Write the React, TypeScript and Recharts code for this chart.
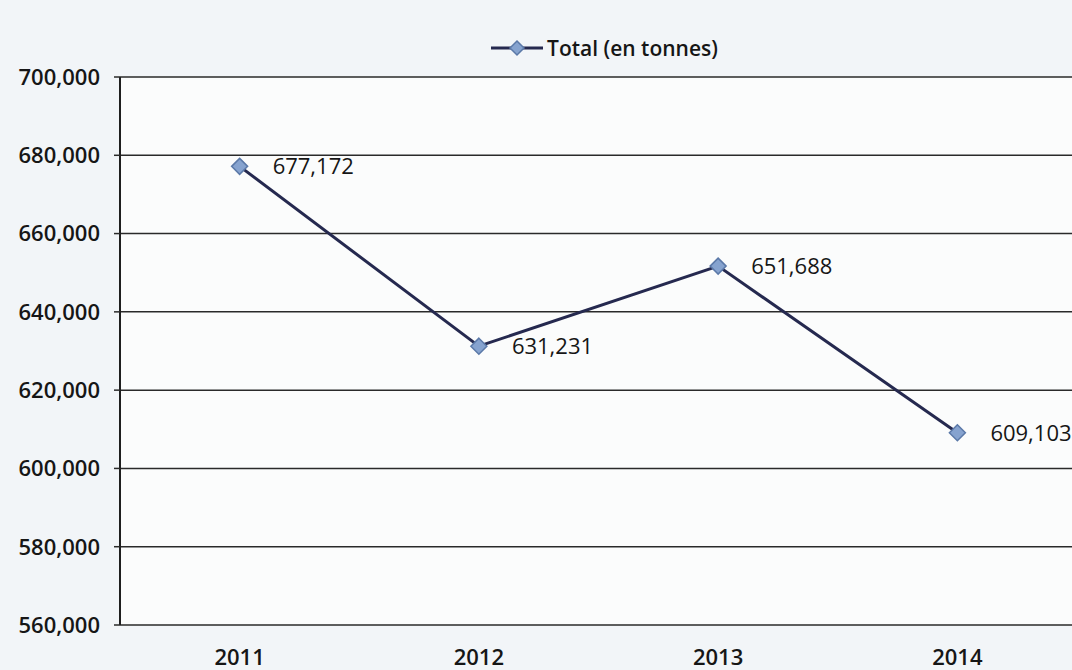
import React from 'react';
import {
  LineChart,
  Line,
  XAxis,
  YAxis,
  CartesianGrid,
  Legend,
  LabelList
} from 'recharts';

const years = ['2011', '2012', '2013', '2014'];
const totals = [677172, 631231, 651688, 609103];
const yTicks = [560000, 580000, 600000, 620000, 640000, 660000, 680000, 700000];
const seriesName = 'Total (en tonnes)';

const FONT = '"Open Sans", "Noto Sans", sans-serif';
const fmt = (v: number) => Number(v).toLocaleString('en-US');

const Diamond = (props: any) => {
  const { cx, cy } = props;
  if (cx == null || cy == null) return null;
  const r = 8;
  return (
    <polygon
      points={`${cx},${cy - r} ${cx + r},${cy} ${cx},${cy + r} ${cx - r},${cy}`}
      fill="#86a3cf"
      stroke="#5b79a8"
      strokeWidth={1.5}
    />
  );
};

const LegendBox = () => (
  <div style={{ display: 'flex', justifyContent: 'center', alignItems: 'center', paddingLeft: 130 }}>
    <svg width={56} height={20} style={{ marginRight: 2 }}>
      <line x1={2} y1={10} x2={54} y2={10} stroke="#25294f" strokeWidth={3} />
      <polygon points="28,3 35,10 28,17 21,10" fill="#86a3cf" stroke="#5b79a8" strokeWidth={1.5} />
    </svg>
    <span style={{ fontFamily: FONT, fontSize: 21, fontWeight: 600, color: '#161616' }}>{seriesName}</span>
  </div>
);

export default function App() {
  const data = years.map((year, i) => ({ year, total: totals[i] }));

  return (
    <div style={{ position: 'absolute', top: 0, left: 0, width: 1072, height: 670, background: '#f2f5f8' }}>
      <LineChart
        width={1072}
        height={670}
        data={data}
        margin={{ top: 77, right: -5, left: 0, bottom: 0 }}
      >
        <CartesianGrid vertical={false} stroke="#2a2a2a" strokeWidth={1.5} fill="#fbfcfc" />
        <XAxis
          xAxisId="bounds"
          type="number"
          domain={[0, years.length]}
          ticks={[0, 1, 2, 3, 4]}
          tickFormatter={() => ''}
          height={0}
          tickSize={7}
          axisLine={{ stroke: '#2a2a2a', strokeWidth: 1.5 }}
          tickLine={{ stroke: '#2a2a2a', strokeWidth: 1.5 }}
        />
        <XAxis
          dataKey="year"
          scale="band"
          height={45}
          axisLine={false}
          tickLine={false}
          tickSize={0}
          tickMargin={24}
          tick={{ fill: '#161616', fontSize: 22, fontFamily: FONT, fontWeight: 600 }}
        />
        <YAxis
          width={120}
          domain={[560000, 700000]}
          ticks={yTicks}
          tickFormatter={fmt}
          tickSize={6}
          tickMargin={14}
          axisLine={{ stroke: '#1e1e1e', strokeWidth: 2 }}
          tickLine={{ stroke: '#2a2a2a', strokeWidth: 1.5 }}
          tick={{ fill: '#161616', fontSize: 22, fontFamily: FONT, fontWeight: 600 }}
        />
        <Legend verticalAlign="middle" wrapperStyle={{ top: 34, left: 0 }} content={<LegendBox />} />
        <Line
          type="linear"
          dataKey="total"
          name={seriesName}
          stroke="#25294f"
          strokeWidth={3}
          dot={<Diamond />}
          activeDot={false}
          isAnimationActive={false}
        >
          <LabelList
            dataKey="total"
            position="right"
            offset={33}
            formatter={fmt}
            fill="#161616"
            fontSize={22}
            fontFamily={FONT}
          />
        </Line>
      </LineChart>
    </div>
  );
}
